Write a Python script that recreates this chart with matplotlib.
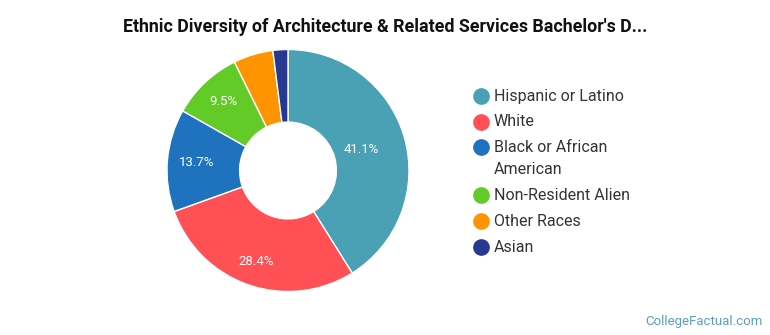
import matplotlib.pyplot as plt
import numpy as np

plt.rcParams['font.family'] = ['Roboto', 'DejaVu Sans']

# Bachelor's degree share by ethnicity (%)
groups = ['Hispanic or Latino', 'White', 'Black or African\nAmerican',
          'Non-Resident Alien', 'Other Races', 'Asian']
shares = [41.1, 28.4, 13.7, 9.5, 5.3, 2.0]
colors = ['#4aa0b4', '#fe5055', '#1f72be', '#62cb27', '#fe9400', '#283891']

# radial placement of the in-slice percentage labels (fraction of radius)
label_r = [0.63, 0.80, 0.76, 0.78, None, None]

W, H = 770, 335
fig = plt.figure(figsize=(W / 100, H / 100), dpi=100)
fig.patch.set_facecolor('white')

# pie axes: centre (288, 170.5) px, radius 121 px
cx, cy, r = 288, 170.5, 121
ax = fig.add_axes([(cx - r) / W, (H - cy - r) / H, 2 * r / W, 2 * r / H])
wedges, _ = ax.pie(shares, colors=colors, startangle=90, counterclock=False,
                   radius=1.0,
                   wedgeprops=dict(width=0.6, edgecolor='white', linewidth=1))
ax.set_xlim(-1, 1)
ax.set_ylim(-1, 1)
ax.set_aspect('equal')
ax.axis('off')

for w, val, lr in zip(wedges, shares, label_r):
    if lr is None:
        continue
    ang = np.deg2rad((w.theta1 + w.theta2) / 2)
    ax.text(lr * np.cos(ang), lr * np.sin(ang), f'{val}%', ha='center',
            va='center', color='white', fontsize=9.5)

fig.text(0.5, (H - 27) / H,
         "Ethnic Diversity of Architecture & Related Services Bachelor's D...",
         ha='center', va='center', fontsize=12.8, fontweight='bold',
         color='#111111')

# legend drawn by hand: dot + label, wrapped names get a second line
rows = [96, 122, 147, 195, 221, 247]
for name, c, y in zip(groups, colors, rows):
    fig.add_artist(plt.Line2D([481 / W], [(H - y) / H], marker='o',
                              markersize=11, color=c, linestyle='none',
                              transform=fig.transFigure))
    for k, line in enumerate(name.split('\n')):
        fig.text(494 / W, (H - y - 22 * k) / H, line, ha='left', va='center',
                 fontsize=11.5, color='#333333')

fig.text(763 / W, (H - 321) / H, 'CollegeFactual.com', ha='right',
         va='center', fontsize=9.5, color='#5a9fba')

fig.savefig('out.png', dpi=100, facecolor='white')
